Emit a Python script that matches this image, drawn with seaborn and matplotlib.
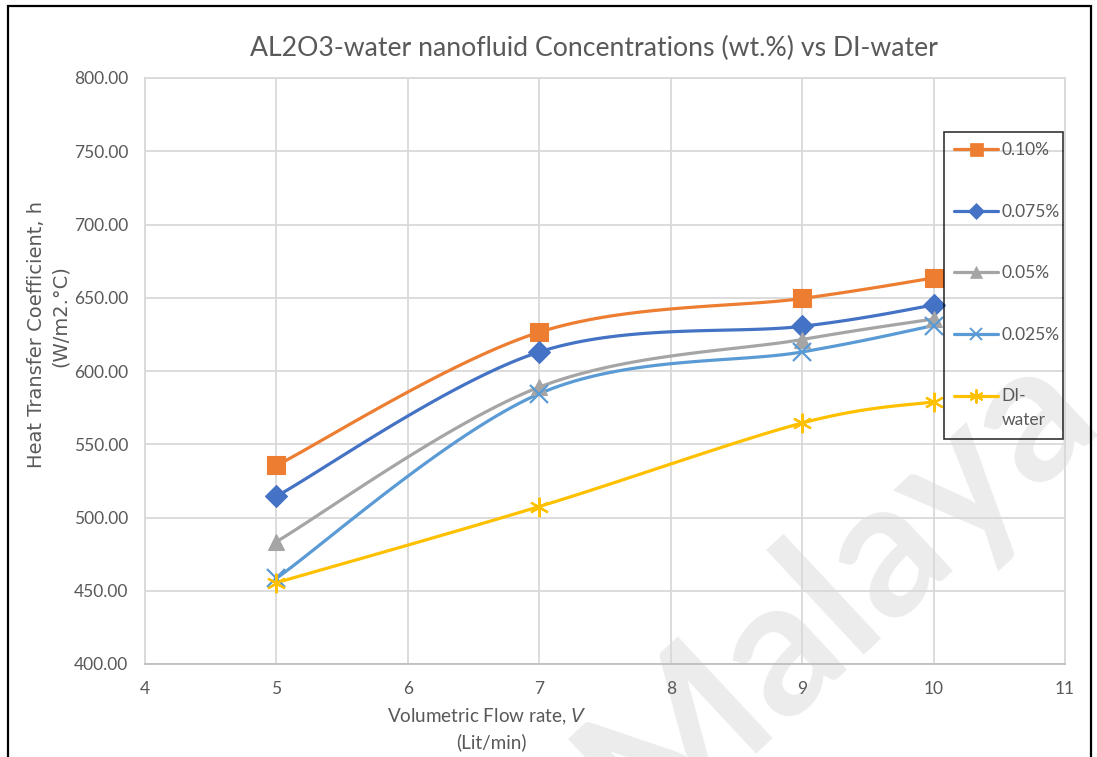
import numpy as np
import pandas as pd
import seaborn as sns
import matplotlib
matplotlib.use("Agg")
import matplotlib.pyplot as plt
from matplotlib.patches import Rectangle
from matplotlib.legend_handler import HandlerLine2D

# Flow rates (Lit/min) and heat transfer coefficient h (W/m2.°C) per concentration
flow_rate = [5, 7, 9, 10]
h_010 = [535.5, 626.5, 649.5, 663.5]
h_0075 = [514.5, 613.0, 630.5, 645.0]
h_005 = [483.5, 589.0, 621.5, 635.5]
h_0025 = [458.5, 584.5, 613.0, 631.0]
h_di = [455.5, 507.5, 564.5, 579.0]

series_labels = ["0.10%", "0.075%", "0.05%", "0.025%", "DI-\nwater"]
series_values = [h_010, h_0075, h_005, h_0025, h_di]
colors = ["#ED7D31", "#4472C4", "#A5A5A5", "#5B9BD5", "#FFC000"]
markers = ["s", "D", "^", "x", (6, 2, 0)]
marker_sizes = [13, 11.5, 12, 12.5, 14]

x_ticks = [4, 5, 6, 7, 8, 9, 10, 11]
y_ticks = [400, 450, 500, 550, 600, 650, 700, 750, 800]


def smooth_curve(xs, ys, n=40):
    """Cubic Bezier smoothing through every point (Catmull-Rom style)."""
    pts = np.column_stack([xs, ys]).astype(float)
    ext = np.vstack([pts[0], pts, pts[-1]])
    out = []
    t = np.linspace(0, 1, n)[:, None]
    for i in range(1, len(ext) - 2):
        p0, p3 = ext[i], ext[i + 1]
        c1 = p0 + (ext[i + 1] - ext[i - 1]) / 6.0
        c2 = p3 - (ext[i + 2] - ext[i]) / 6.0
        seg = ((1 - t) ** 3) * p0 + 3 * ((1 - t) ** 2) * t * c1 + 3 * (1 - t) * t ** 2 * c2 + t ** 3 * p3
        out.append(seg if i == 1 else seg[1:])
    arr = np.vstack(out)
    return arr[:, 0], arr[:, 1]


class RaisedLineHandler(HandlerLine2D):
    """Line handler whose sample sits level with the first row of a wrapped label."""

    def __init__(self, lift, **kw):
        super().__init__(**kw)
        self.lift = lift

    def create_artists(self, legend, orig_handle, xdescent, ydescent, width,
                       height, fontsize, trans):
        return super().create_artists(legend, orig_handle, xdescent,
                                      ydescent - 2 * self.lift, width, height,
                                      fontsize, trans)


sns.set_theme(style="white")
plt.rcParams["font.family"] = ["Lato", "DejaVu Sans"]

fig = plt.figure(figsize=(10.97, 7.57), dpi=100)
fig.patch.set_facecolor("white")
ax = fig.add_axes([145 / 1097, 1 - 664 / 757, 920 / 1097, 586 / 757])
ax.set_facecolor("none")

# faint watermark behind the plot
fig.text(838 / 1097, 1 - 588 / 757, "Malaya", fontsize=138, color="#ececec",
         fontweight="bold", rotation=43, rotation_mode="anchor", ha="center",
         va="center", zorder=-5, family="Lato")

smooth_rows = []
point_rows = []
for lab, vals in zip(series_labels, series_values):
    sx, sy = smooth_curve(flow_rate, vals)
    smooth_rows.append(pd.DataFrame({"flow": sx, "h": sy, "series": lab}))
    point_rows.append(pd.DataFrame({"flow": flow_rate, "h": vals, "series": lab}))
smooth_df = pd.concat(smooth_rows, ignore_index=True)
point_df = pd.concat(point_rows, ignore_index=True)

palette = dict(zip(series_labels, colors))
sns.lineplot(data=smooth_df, x="flow", y="h", hue="series", palette=palette,
             sort=False, estimator=None, units="series", linewidth=2.3,
             legend=False, ax=ax, zorder=3)

handles = []
for lab, col, mk, ms in zip(series_labels, colors, markers, marker_sizes):
    sub = point_df[point_df["series"] == lab]
    thin = mk in ("x", (6, 2, 0))
    ax.plot(sub["flow"], sub["h"], linestyle="none", marker=mk, markersize=ms,
            color=col, markeredgecolor=col, markeredgewidth=1.6 if thin else 0.8,
            zorder=4)
    handles.append(plt.Line2D([], [], color=col, linewidth=2.3, marker=mk,
                              markersize=ms * 0.72, markeredgecolor=col,
                              markeredgewidth=1.4 if thin else 0.5))

ax.set_xlim(4, 11)
ax.set_ylim(400, 800)
ax.set_xticks(x_ticks)
ax.set_yticks(y_ticks)
ax.set_yticklabels([f"{v:.2f}" for v in y_ticks])
ax.grid(True, color="#d9d9d9", linewidth=1.3)
ax.set_axisbelow(True)
for s in ax.spines.values():
    s.set_color("#d9d9d9")
    s.set_linewidth(1.3)
ax.spines["bottom"].set_color("#bfbfbf")
ax.tick_params(axis="both", length=0, labelsize=12.5, labelcolor="#595959")
ax.tick_params(axis="x", pad=12)
ax.tick_params(axis="y", pad=12)

ax.set_xlabel("")
ax.set_ylabel("")
fig.text(487 / 1097, 1 - 717 / 757, "Volumetric Flow rate, $V$", ha="center", va="center",
         fontsize=13.6, color="#595959")
fig.text(491 / 1097, 1 - 742 / 757, "(Lit/min)", ha="center", va="center",
         fontsize=13.6, color="#595959")
fig.text(37 / 1097, 1 - 334 / 757, "Heat Transfer Coefficient, h", rotation=90,
         ha="center", va="center", fontsize=14, color="#595959", family="DejaVu Sans")
fig.text(60 / 1097, 1 - 316 / 757, "(W/m2.°C)", rotation=90,
         ha="center", va="center", fontsize=14, color="#595959", family="DejaVu Sans")

fig.text(594 / 1097, 1 - 48 / 757, "AL2O3-water nanofluid Concentrations (wt.%) vs DI-water",
         ha="center", va="center", fontsize=19.2, color="#595959")

leg = ax.legend(handles, series_labels, loc="upper left",
                bbox_to_anchor=(944 / 1097, 1 - 440 / 757, 119 / 1097, 308 / 757),
                bbox_transform=fig.transFigure, mode="expand",
                frameon=True, fancybox=False, edgecolor="black",
                fontsize=12.5, labelcolor="#595959", handlelength=2.5,
                handletextpad=0.2, labelspacing=2.62, borderpad=0.6,
                borderaxespad=0,
                handler_map={handles[-1]: RaisedLineHandler(lift=9)})
leg.get_frame().set_facecolor("none")
leg.get_frame().set_linewidth(1.2)
leg.set_zorder(6)
for txt in leg.get_texts():
    txt.set_linespacing(1.6)

# outer chart border
fig.patches.append(Rectangle((8 / 1097, -0.02), 1083 / 1097, 1.02 - 6 / 757,
                             transform=fig.transFigure, fill=False,
                             edgecolor="black", linewidth=1.6, zorder=10))

fig.savefig("out.png", dpi=100)
